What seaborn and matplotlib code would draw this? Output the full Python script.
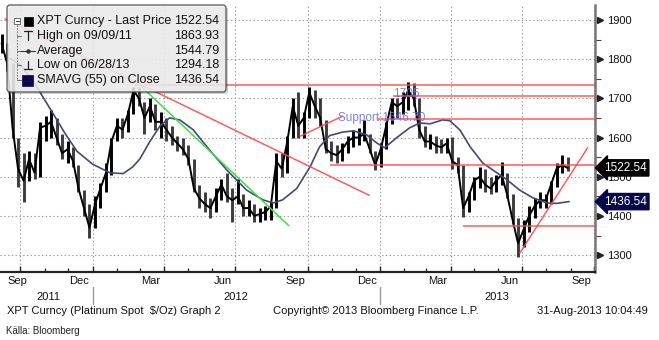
import numpy as np
import pandas as pd
import matplotlib
matplotlib.use("Agg")
import matplotlib.pyplot as plt
import matplotlib.dates as mdates
import matplotlib.transforms as mtransforms
from matplotlib.patches import FancyBboxPatch, Rectangle
from matplotlib.lines import Line2D
import seaborn as sns

# ---------------------------------------------------------------------------
# XPT Curncy (platinum spot, $/oz): weekly high / low / close, Sep 2011 - Aug 2013
# ---------------------------------------------------------------------------
week_high = [1863.93, 1840, 1790, 1600, 1560, 1565, 1560, 1640, 1655, 1670, 1650, 1610,
             1590, 1575, 1530, 1465, 1430, 1450, 1485, 1535, 1600, 1650, 1650, 1670,
             1730, 1730, 1690, 1700, 1685, 1665, 1650, 1630, 1605, 1600, 1580, 1545,
             1480, 1460, 1445, 1470, 1495, 1510, 1470, 1495, 1455, 1440, 1430, 1420,
             1425, 1435, 1560, 1560, 1605, 1700, 1716, 1665, 1730, 1720, 1700, 1645,
             1590, 1580, 1585, 1605, 1620, 1625, 1645, 1610, 1565, 1585, 1640, 1700,
             1700, 1715, 1742, 1740, 1700, 1630, 1610, 1605, 1595, 1600, 1602, 1550,
             1530, 1460, 1500, 1525, 1520, 1500, 1505, 1538, 1510, 1455, 1395, 1390,
             1425, 1445, 1460, 1455, 1490, 1535, 1556, 1550]
week_low = [1815, 1770, 1600, 1475, 1436, 1490, 1495, 1500, 1590, 1600, 1580, 1545,
            1535, 1525, 1460, 1400, 1344, 1370, 1420, 1460, 1505, 1590, 1600, 1615,
            1660, 1680, 1610, 1640, 1620, 1600, 1590, 1580, 1565, 1555, 1530, 1460,
            1420, 1410, 1395, 1410, 1440, 1435, 1385, 1430, 1400, 1400, 1385, 1385,
            1390, 1390, 1420, 1500, 1510, 1600, 1600, 1600, 1650, 1650, 1630, 1560,
            1540, 1535, 1540, 1560, 1575, 1580, 1590, 1560, 1517, 1525, 1570, 1635,
            1650, 1660, 1670, 1680, 1600, 1575, 1570, 1560, 1560, 1560, 1520, 1510,
            1397, 1410, 1440, 1470, 1460, 1455, 1460, 1480, 1445, 1380, 1294.18, 1320,
            1360, 1395, 1420, 1420, 1430, 1475, 1510, 1515]
week_close = [1840, 1790, 1625, 1520, 1490, 1545, 1510, 1625, 1630, 1640, 1600, 1560,
              1570, 1540, 1470, 1420, 1370, 1430, 1470, 1510, 1590, 1630, 1620, 1660,
              1720, 1700, 1650, 1680, 1640, 1640, 1620, 1600, 1585, 1570, 1545, 1470,
              1445, 1430, 1420, 1450, 1480, 1450, 1440, 1450, 1420, 1420, 1400, 1405,
              1410, 1425, 1540, 1520, 1590, 1680, 1630, 1650, 1715, 1680, 1650, 1570,
              1560, 1555, 1570, 1590, 1600, 1600, 1610, 1570, 1530, 1570, 1630, 1690,
              1680, 1690, 1720, 1700, 1620, 1590, 1590, 1580, 1575, 1585, 1540, 1530,
              1420, 1450, 1490, 1500, 1480, 1470, 1490, 1505, 1455, 1390, 1330, 1365,
              1400, 1425, 1440, 1440, 1480, 1520, 1530, 1522.54]
week_dates = pd.date_range("2011-09-07", periods=len(week_close), freq="W-WED")

# 55-day simple moving average of the close
sma_dates = pd.to_datetime([
    "2011-09-15", "2011-10-01", "2011-10-17", "2011-11-11", "2011-11-27", "2011-12-12",
    "2012-01-01", "2012-01-23", "2012-02-09", "2012-02-21", "2012-03-01", "2012-03-14",
    "2012-03-27", "2012-04-08", "2012-04-21", "2012-05-08", "2012-05-29", "2012-06-20",
    "2012-07-15", "2012-08-05", "2012-08-18", "2012-08-30", "2012-09-17", "2012-10-04",
    "2012-10-16", "2012-10-29", "2012-11-15", "2012-11-28", "2012-12-15", "2012-12-28",
    "2013-01-07", "2013-01-22", "2013-02-08", "2013-02-21", "2013-03-06", "2013-03-22",
    "2013-03-31", "2013-04-13", "2013-04-26", "2013-05-12", "2013-05-30", "2013-06-12",
    "2013-06-28", "2013-07-15", "2013-08-02", "2013-08-14", "2013-08-30"])
sma_values = [1805, 1785, 1745, 1663, 1610, 1565, 1532, 1510, 1508, 1525, 1545, 1590,
              1630, 1650, 1645, 1620, 1568, 1517, 1466, 1441, 1433, 1441, 1470, 1525,
              1576, 1605, 1614, 1617, 1607, 1586, 1574, 1599, 1625, 1637, 1635, 1645,
              1643, 1619, 1576, 1535, 1510, 1492, 1466, 1446, 1433, 1432, 1436.54]

# hand-drawn analysis lines: (start date, start price, end date, end price)
red_lines = [
    ("2011-09-11", 1903, "2012-12-19", 1452),   # long downtrend
    ("2012-02-23", 1735, "2013-10-02", 1735),   # resistance
    ("2013-01-18", 1705, "2013-10-02", 1705),
    ("2012-12-30", 1646.7, "2013-10-02", 1646.7),
    ("2012-09-21", 1603, "2012-11-15", 1655),
    ("2012-10-29", 1530, "2013-10-02", 1530),
    ("2013-04-17", 1375, "2013-10-02", 1375),
    ("2013-06-28", 1305, "2013-09-23", 1575),   # new uptrend
]
green_lines = [("2012-03-01", 1734, "2012-09-07", 1375)]

level_labels = [("2013-01-18", 1712, "1705"),
                ("2012-11-09", 1650, "Support 1646.70")]

legend_names = ["XPT Curncy - Last Price", "High on 09/09/11", "Average",
                "Low on 06/28/13", "SMAVG (55) on Close"]
legend_average = 1544.79

month_names = ["Sep", "Dec", "Mar", "Jun", "Sep", "Dec", "Mar", "Jun", "Sep"]
month_mid = pd.to_datetime(["2011-09-15", "2011-12-15", "2012-03-15", "2012-06-15",
                            "2012-09-15", "2012-12-15", "2013-03-15", "2013-06-15",
                            "2013-09-15"])
year_names = ["2011", "2012", "2013"]
year_mid = pd.to_datetime(["2011-11-06", "2012-07-02", "2013-05-30"])
year_starts = pd.to_datetime(["2012-01-01", "2013-01-01"])

# ---------------------------------------------------------------------------
W, H = 659, 340
sns.set_theme(style="white")
plt.rcParams["font.family"] = ["Liberation Sans", "DejaVu Sans"]
plt.rcParams["axes.linewidth"] = 1.0

fig = plt.figure(figsize=(W / 100, H / 100), dpi=100)
fig.patch.set_facecolor("white")
PX = mtransforms.Affine2D().scale(1.0 / W, -1.0 / H).translate(0, 1) + fig.transFigure

ax = fig.add_axes([0, 68 / H, 595 / W, 267 / H])
ax.set_facecolor("white")

RED = "#ff4a4a"
GREEN = "#3fe03f"
SMA_COL = "#47477f"

# price: one high/low bar per week joined by the closing path
up = np.r_[True, np.diff(week_close) >= 0]
bar_cols = np.where(up, "#000000", "#3c3c3c")
ax.vlines(week_dates, week_low, week_high, colors=bar_cols, lw=2.1, zorder=4)
sns.lineplot(x=week_dates, y=week_close, ax=ax, color="black", lw=1.4, zorder=5)
sns.lineplot(x=sma_dates, y=sma_values, ax=ax, color=SMA_COL, lw=1.2, zorder=6)

for d0, p0, d1, p1 in red_lines:
    ax.plot([pd.Timestamp(d0), pd.Timestamp(d1)], [p0, p1], color=RED, lw=1.1,
            alpha=0.9, zorder=7, solid_capstyle="butt")
for d0, p0, d1, p1 in green_lines:
    ax.plot([pd.Timestamp(d0), pd.Timestamp(d1)], [p0, p1], color=GREEN, lw=1.1,
            zorder=7)
for d, p, s in level_labels:
    ax.text(pd.Timestamp(d), p, s, color="#6b6be0", alpha=0.85, fontsize=8.5,
            ha="left", va="center", zorder=8)

# axes limits and ticks
ax.set_xlim(pd.Timestamp("2011-09-05"), pd.Timestamp("2013-10-02"))
ax.set_ylim(1257, 1938)
ax.set_xlabel("")
ax.set_ylabel("")

ax.xaxis.set_major_locator(mdates.MonthLocator(bymonth=[1, 4, 7, 10]))
ax.xaxis.set_minor_locator(mdates.MonthLocator())
ax.tick_params(axis="x", which="both", labelbottom=False, bottom=True,
               direction="in", color="#222222")
ax.tick_params(axis="x", which="major", length=4, width=1.0)
ax.tick_params(axis="x", which="minor", length=3, width=0.9)

yt = np.arange(1300, 1901, 100)
ax.yaxis.tick_right()
ax.set_yticks(yt)
ax.set_yticks(np.arange(1350, 1901, 100), minor=True)
ax.tick_params(axis="y", which="major", length=0, pad=9, labelsize=8,
               labelcolor="#111111")
ax.tick_params(axis="y", which="minor", right=True, length=4, width=0.8,
               color="#444444", direction="out")

ax.grid(which="major", axis="both", color="#9a9a9a", lw=0.8, ls=(0, (1.2, 2.2)))
ax.set_axisbelow(True)
for side in ("top", "left"):
    ax.spines[side].set_visible(False)
ax.spines["right"].set_color("#777777")
ax.spines["right"].set_linewidth(1.8)
ax.spines["bottom"].set_color("#222222")
ax.spines["bottom"].set_linewidth(1.6)

# right-pointing tick markers on the value axis
tri = mtransforms.offset_copy(ax.get_yaxis_transform(), fig=fig, x=4.5, y=0,
                              units="dots")
ax.plot(np.ones(len(yt)), yt, ls="none", marker=">", ms=4.5, color="#222222",
        transform=tri, clip_on=False, zorder=9)

# last-value tags
last_price = week_close[-1]
last_sma = sma_values[-1]
for val, fc in ((last_price, "black"), (last_sma, "#06064a")):
    ax.annotate(f"{val:.2f}", xy=(1.0, val), xycoords=ax.get_yaxis_transform(),
                xytext=(9, 0), textcoords="offset pixels", ha="left", va="center",
                color="white", fontsize=8.5, annotation_clip=False, zorder=10,
                bbox=dict(boxstyle="larrow,pad=0.18", fc=fc, ec=fc))

# date labels under the axis
xt = ax.get_xaxis_transform()
for i, (d, s) in enumerate(zip(month_mid, month_names)):
    ax.text(d, -0.034, s, transform=xt, ha="left" if i == 0 else "center",
            va="center", fontsize=8, color="#111111", clip_on=False)
for d, s in zip(year_mid, year_names):
    ax.text(d, -0.092, s, transform=xt, ha="center", va="center", fontsize=8,
            color="#111111", clip_on=False)
for d in year_starts:
    ax.plot([d, d], [-0.058, -0.118], transform=xt, color="#999999", lw=1.0,
            clip_on=False)

# legend panel
fig.add_artist(FancyBboxPatch((9, 7), 219, 87, boxstyle="round,pad=0,rounding_size=3",
                              transform=PX, fc="#000000", ec="none", alpha=0.18,
                              zorder=20))
fig.add_artist(FancyBboxPatch((7, 5), 219, 87, boxstyle="round,pad=0,rounding_size=3",
                              transform=PX, fc="#f0f0f0", ec="#3c3c3c", lw=0.9,
                              alpha=0.86, zorder=21))
rows = [21, 36, 51, 65, 80]
legend_values = [last_price, max(week_high), legend_average, min(week_low), last_sma]
for y, name, val in zip(rows, legend_names, legend_values):
    fig.text(37, y, name, transform=PX, ha="left", va="center", fontsize=9,
             color="#111111", zorder=23)
    fig.text(219, y, f"{val:.2f}", transform=PX, ha="right", va="center",
             fontsize=9, color="#111111", zorder=23)

def pxline(xs, ys, **kw):
    fig.add_artist(Line2D(xs, ys, transform=PX, zorder=22, **kw))

fig.add_artist(Rectangle((14, 18), 6, 6, transform=PX, fc="white", ec="#555555",
                         lw=0.6, zorder=22))
pxline([15.5, 18.5], [21, 21], color="#333333", lw=0.7)
pxline([17, 17], [25, 80], color="#666666", lw=0.7, ls=(0, (1.5, 1.5)))
for y in rows[1:]:
    pxline([17, 21], [y, y], color="#666666", lw=0.7)
fig.add_artist(Rectangle((24, 16.5), 9, 9, transform=PX, fc="black", ec="black",
                         lw=0.5, zorder=22))
pxline([24, 32], [31, 31], color="#222222", lw=0.9)
pxline([28, 28], [31, 40], color="#222222", lw=0.9)
pxline([21, 35], [51, 51], color="#333333", lw=0.8)
pxline([28], [51], color="#333333", marker="o", ms=2.2, ls="none")
pxline([28, 28], [61, 69], color="#222222", lw=0.9)
pxline([24, 32], [69, 69], color="#222222", lw=0.9)
fig.add_artist(Rectangle((22, 74.5), 11, 11, transform=PX, fc="#08084a",
                         ec="#08084a", lw=0.5, zorder=22))

# footer
fig.text(7, 311, "XPT Curncy (Platinum Spot  $/Oz) Graph 2", transform=PX,
         ha="left", va="center", fontsize=8, color="#111111")
fig.text(273, 311, "Copyright\u00a9 2013 Bloomberg Finance L.P.", transform=PX,
         ha="left", va="center", fontsize=8, color="#111111")
fig.text(648, 311, "31-Aug-2013 10:04:49", transform=PX, ha="right", va="center",
         fontsize=8, color="#111111")
fig.text(6, 331, "K\u00e4lla: Bloomberg", transform=PX, ha="left", va="center",
         fontsize=7, color="#222222")

fig.savefig("out.png", dpi=100, facecolor="white")
